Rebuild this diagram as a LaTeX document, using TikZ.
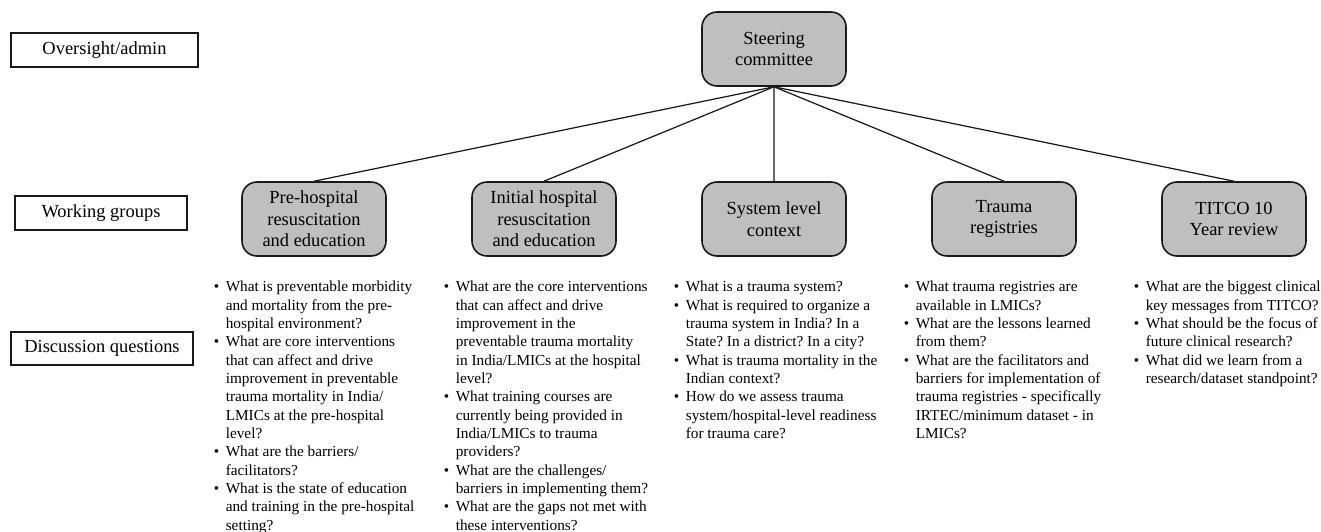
\documentclass[tikz,border=0pt]{standalone}
\usepackage{fontspec}
\setmainfont{Liberation Serif}
\usetikzlibrary{positioning}
\frenchspacing

\definecolor{boxgray}{HTML}{BFBFBF}
\newcommand\qb{\makebox[0.24cm][l]{\textbullet}}
\newcommand\qs{\hspace*{0.24cm}}

\tikzset{
  group/.style = {draw, rounded corners = 0.3cm, fill = boxgray, minimum width = 2.88cm,
    minimum height = 1.48cm, align = center, inner sep = 0pt,
    font = \fontsize{10.5pt}{12.3pt}\selectfont},
  level/.style = {draw, line width = 0.6pt, minimum height = 0.68cm, inner sep = 0pt,
    font = \fontsize{10.5pt}{12.3pt}\selectfont},
  questions/.style = {anchor = north west, align = left, inner sep = 0pt,
    font = \fontsize{8.7pt}{10.43pt}\selectfont}
}

\begin{document}
\begin{tikzpicture}[black!90, text = black, line width = 0.9pt]

    \useasboundingbox (0,0) rectangle (26.42,-10.62);

    % left column labels
    \node (L1) at (2.09,-1.0)  [level, minimum width = 3.74cm] {Oversight/admin};
    \node (L2) at (2.02,-4.26) [level, minimum width = 3.44cm] {Working groups};
    \node (L3) at (2.04,-6.97) [level, minimum width = 3.64cm, minimum height = 0.66cm] {Discussion questions};

    \node (SC) at (15.48,-0.98) [group] {Steering\\committee};

    \begin{scope}[on grid]
        \node (G1) at (6.28,-4.38) [group] {Pre-hospital\\resuscitation\\and education};
        \node (G2) [group, right = 4.6cm of G1] {Initial hospital\\resuscitation\\and education};
        \node (G3) [group, right = 4.6cm of G2] {System level\\context};
        \node (G4) [group, right = 4.6cm of G3] {Trauma\\registries};
        \node (G5) [group, right = 4.6cm of G4] {TITCO 10\\Year review};
    \end{scope}

    \foreach \i in {1,...,5}
        \draw[line width = 0.7pt] (SC.south) -- (G\i.north);

    % discussion questions
    \node (Q1) at (4.26,-5.61) [questions] {%
        \qb What is preventable morbidity\\
        \qs and mortality from the pre-\\
        \qs hospital environment?\\
        \qb What are core interventions\\
        \qs that can affect and drive\\
        \qs improvement in preventable\\
        \qs trauma mortality in India/\\
        \qs LMICs at the pre-hospital\\
        \qs level?\\
        \qb What are the barriers/\\
        \qs facilitators?\\
        \qb What is the state of education\\
        \qs and training in the pre-hospital\\
        \qs setting?};
    \node (Q2) at (8.86,-5.61) [questions] {%
        \qb What are the core interventions\\
        \qs that can affect and drive\\
        \qs improvement in the\\
        \qs preventable trauma mortality\\
        \qs in India/LMICs at the hospital\\
        \qs level?\\
        \qb What training courses are\\
        \qs currently being provided in\\
        \qs India/LMICs to trauma\\
        \qs providers?\\
        \qb What are the challenges/\\
        \qs barriers in implementing them?\\
        \qb What are the gaps not met with\\
        \qs these interventions?};
    \node (Q3) at (13.46,-5.61) [questions] {%
        \qb What is a trauma system?\\
        \qb What is required to organize a\\
        \qs trauma system in India? In a\\
        \qs State? In a district? In a city?\\
        \qb What is trauma mortality in the\\
        \qs Indian context?\\
        \qb How do we assess trauma\\
        \qs system/hospital-level readiness\\
        \qs for trauma care?};
    \node (Q4) at (18.06,-5.61) [questions] {%
        \qb What trauma registries are\\
        \qs available in LMICs?\\
        \qb What are the lessons learned\\
        \qs from them?\\
        \qb What are the facilitators and\\
        \qs barriers for implementation of\\
        \qs trauma registries - specifically\\
        \qs IRTEC/minimum dataset - in\\
        \qs LMICs?};
    \node (Q5) at (22.66,-5.61) [questions] {%
        \qb What are the biggest clinical\\
        \qs key messages from TITCO?\\
        \qb What should be the focus of\\
        \qs future clinical research?\\
        \qb What did we learn from a\\
        \qs research/dataset standpoint?};

\end{tikzpicture}
\end{document}
